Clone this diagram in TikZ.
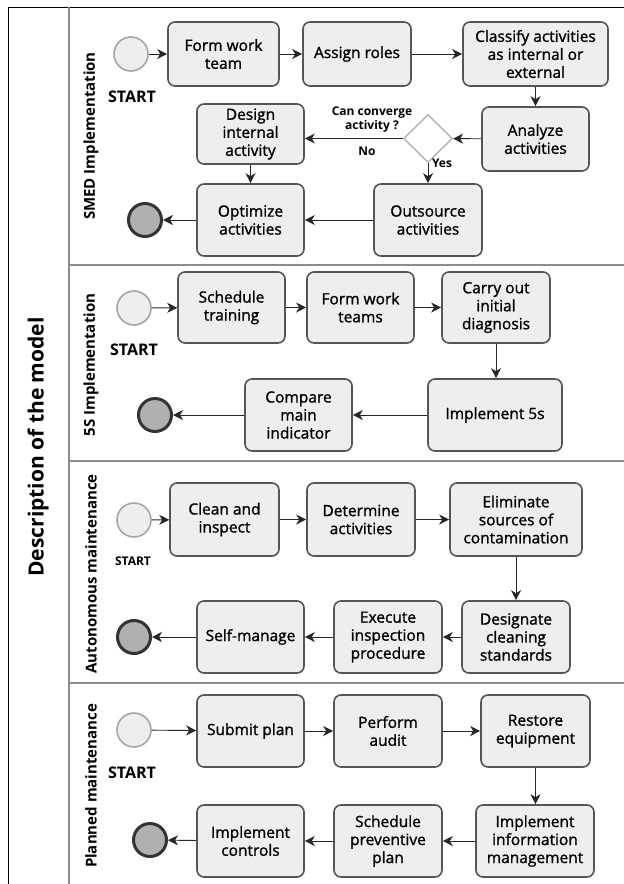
\documentclass[tikz,border=0pt]{standalone}
\usepackage{fontspec}
\setmainfont{Open Sans}
\newfontfamily\taskfont{Open Sans}[FakeBold=1.2]
\usepackage{xcolor}
\usetikzlibrary{arrows.meta,shapes.geometric}

\definecolor{boxfill}{HTML}{EEEEEE}
\definecolor{boxline}{HTML}{555555}
\definecolor{laneline}{HTML}{8C8C8C}
\definecolor{endfill}{HTML}{B0B0B0}

\begin{document}
\begin{tikzpicture}[x=1pt,y=-1pt,
    task/.style={draw=boxline,fill=boxfill,line width=1.6pt,rounded corners=7pt,
        align=center,inner sep=1pt,font=\taskfont\fontsize{15.5}{18}\selectfont,
        minimum width=107pt,minimum height=72pt},
    startev/.style={circle,draw=gray!70,fill=boxfill,line width=1.6pt,minimum size=34pt,inner sep=0pt},
    endev/.style={circle,draw=black!80,fill=endfill,line width=3pt,minimum size=33pt,inner sep=0pt},
    flow/.style={-{Stealth[length=10pt,width=10pt,inset=3pt]},line width=0.9pt,black!85},
    lanelabel/.style={rotate=90,font=\bfseries\fontsize{15}{17}\selectfont},
    startlbl/.style={font=\bfseries\fontsize{16}{18}\selectfont},
    small/.style={font=\bfseries\fontsize{12}{14}\selectfont,align=center}]

    \useasboundingbox (0,0) rectangle (624,884);

    % frame and lanes
    \draw[black,line width=0.8pt] (8,884) -- (8,7) -- (624,7);
    \draw[laneline,line width=1.2pt] (69,7) -- (69,884);
    \draw[laneline,line width=1.2pt] (69,265) -- (624,265);
    \draw[laneline,line width=1.2pt] (69,461) -- (624,461);
    \draw[laneline,line width=1.2pt] (69,683) -- (624,683);

    \node[rotate=90,font=\bfseries\fontsize{21}{24}\selectfont] (title) at (38,447) {Description of the model};
    \node[lanelabel] (smedlbl) at (91,136) {SMED Implementation};
    \node[lanelabel] (fivelbl) at (91,365) {5S Implementation};
    \node[lanelabel] (autolbl) at (91,574) {Autonomous maintenance};
    \node[lanelabel] (planlbl) at (91,786) {Planned maintenance};

    % SMED
    \node[startev] (startA) at (131,54) {};
    \node[startlbl] (startAl) at (132,97) {START};
    \node[task,minimum width=111pt,minimum height=64pt] (formA) at (223.5,54) {Form work\\team};
    \node[task,minimum width=108pt,minimum height=64pt] (assign) at (357,54) {Assign roles};
    \node[task,minimum width=145pt,minimum height=64pt] (classify) at (535.5,54) {Classify activities\\as internal or\\external};
    \node[task,minimum height=64pt] (analyze) at (535.5,139) {Analyze\\activities};
    \node[diamond,draw=gray!60,fill=white,line width=1.4pt,minimum width=49pt,minimum height=48pt,inner sep=0pt] (dia) at (428,138.5) {};
    \node[small] (question) at (372,120) {Can converge\\activity ?};
    \node[small] (no) at (367,151) {No};
    \node[small] (yes) at (442,163) {Yes};
    \node[task,minimum height=60pt] (design) at (250.5,134) {Design\\internal\\activity};
    \node[task] (optimize) at (250.5,220) {Optimize\\activities};
    \node[task,minimum width=108pt] (outsource) at (428,220) {Outsource\\activities};
    \node[endev] (endA) at (145,220) {};

    \draw[flow] (startA) -- (formA);
    \draw[flow] (formA) -- (assign);
    \draw[flow] (assign) -- (classify);
    \draw[flow] (classify) -- (analyze);
    \draw[flow] (analyze) -- (dia);
    \draw[flow] (dia.west) -- (dia.west -| design.east);
    \draw[flow] (dia) -- (outsource);
    \draw[flow] (design) -- (optimize);
    \draw[flow] (outsource) -- (optimize);
    \draw[flow] (optimize) -- (endA);

    % 5S
    \node[startev] (startB) at (134,308) {};
    \node[startlbl] (startBl) at (134,350) {START};
    \node[task,minimum height=71pt] (schedule) at (231.5,307.5) {Schedule\\training};
    \node[task,minimum height=71pt] (formB) at (360.5,307.5) {Form work\\teams};
    \node[task,minimum width=108pt,minimum height=71pt] (carry) at (496,307.5) {Carry out\\initial\\diagnosis};
    \node[task,minimum width=134pt] (implfive) at (495,415) {Implement 5s};
    \node[task] (compare) at (298.5,415) {Compare\\main\\indicator};
    \node[endev] (endB) at (155,415) {};

    \draw[flow] (startB) -- (schedule);
    \draw[flow] (schedule) -- (formB);
    \draw[flow] (formB) -- (carry);
    \draw[flow] (carry) -- (carry |- implfive.north);
    \draw[flow] (implfive) -- (compare);
    \draw[flow] (compare) -- (endB);

    % Autonomous maintenance
    \node[startev] (startC) at (134,520) {};
    \node[font=\bfseries\fontsize{12}{14}\selectfont] (startCl) at (133,561) {START};
    \node[task,minimum width=109pt,minimum height=73pt] (clean) at (224.5,519.5) {Clean and\\inspect};
    \node[task,minimum width=108pt,minimum height=73pt] (determine) at (361,519.5) {Determine\\activities};
    \node[task,minimum width=132pt,minimum height=73pt] (eliminate) at (516,519.5) {Eliminate\\sources of\\contamination};
    \node[task,minimum width=108pt] (designate) at (516,637) {Designate\\cleaning\\standards};
    \node[task,minimum width=108pt] (execute) at (388,637) {Execute\\inspection\\procedure};
    \node[task] (selfman) at (250.5,637) {Self-manage};
    \node[endev] (endC) at (134,637) {};

    \draw[flow] (startC) -- (clean);
    \draw[flow] (clean) -- (determine);
    \draw[flow] (determine) -- (eliminate);
    \draw[flow] (eliminate) -- (designate);
    \draw[flow] (designate) -- (execute);
    \draw[flow] (execute) -- (selfman);
    \draw[flow] (selfman) -- (endC);

    % Planned maintenance
    \node[startev] (startD) at (134,730) {};
    \node[startlbl] (startDl) at (132,773) {START};
    \node[task] (submit) at (250.5,731) {Submit plan};
    \node[task,minimum width=108pt] (perform) at (388,731) {Perform\\audit};
    \node[task,minimum width=109pt] (restore) at (535.5,731) {Restore\\equipment};
    \node[task,minimum width=118pt] (implinfo) at (535,841) {Implement\\information\\management};
    \node[task,minimum width=108pt] (schedprev) at (388,841) {Schedule\\preventive\\plan};
    \node[task] (implctrl) at (250.5,841) {Implement\\controls};
    \node[endev] (endD) at (150,840) {};

    \draw[flow] (startD) -- (submit);
    \draw[flow] (submit) -- (perform);
    \draw[flow] (perform) -- (restore);
    \draw[flow] (restore) -- (restore |- implinfo.north);
    \draw[flow] (implinfo) -- (schedprev);
    \draw[flow] (schedprev) -- (implctrl);
    \draw[flow] (implctrl) -- (endD);

\end{tikzpicture}
\end{document}
